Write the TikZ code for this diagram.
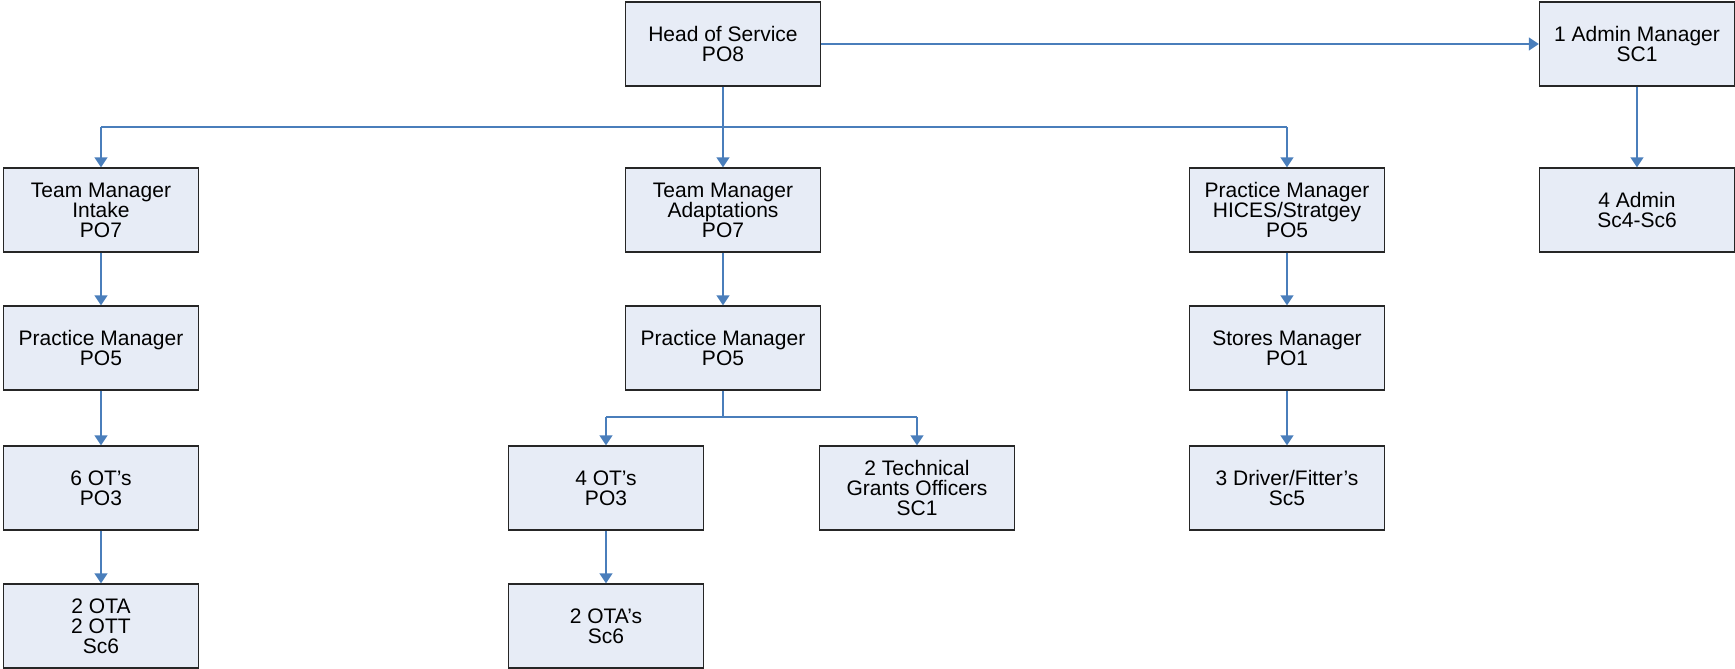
\documentclass[tikz,border=0pt]{standalone}
\usepackage{fontspec}
\setmainfont{Liberation Sans}
\usetikzlibrary{calc,arrows.meta}

\definecolor{boxfill}{HTML}{E7ECF6}
\definecolor{linkblue}{HTML}{4A7EBB}

\tikzset{
    post/.style={draw=black!85, line width=1.3pt, fill=boxfill, minimum width=195pt,
        minimum height=84pt, align=center, inner sep=2pt,
        font=\fontsize{21}{20}\selectfont},
    link/.style={draw=linkblue, line width=1.3pt},
    tip/.style={link, -{Triangle[width=13pt,length=10pt]}, color=linkblue}
}

\begin{document}
\begin{tikzpicture}[x=1pt, y=-1pt]
    \useasboundingbox (0,0) rectangle (1735,669);

    % top row
    \node[post] (hos) at (723,44) {Head of Service\\PO8};
    \node[post] (adm) at (1637,44) {1 Admin Manager\\SC1};

    % managers
    \node[post] (tmi) at (101,210) {Team Manager\\Intake\\PO7};
    \node[post] (tma) at (723,210) {Team Manager\\Adaptations\\PO7};
    \node[post] (pmh) at (1287,210) {Practice Manager\\HICES/Stratgey\\PO5};
    \node[post] (adm4) at (1637,210) {4 Admin\\Sc4-Sc6};

    \node[post] (pmi) at (101,348) {Practice Manager\\PO5};
    \node[post] (pma) at (723,348) {Practice Manager\\PO5};
    \node[post] (stm) at (1287,348) {Stores Manager\\PO1};

    % staff
    \node[post] (ots6) at (101,488) {6 OT's\\PO3};
    \node[post] (ots4) at (606,488) {4 OT's\\PO3};
    \node[post] (tgo) at (917,488) {2 Technical\\Grants Officers\\SC1};
    \node[post] (drv) at (1287,488) {3 Driver/Fitter's\\Sc5};

    \node[post] (ota2) at (101,626) {2 OTA\\2 OTT\\Sc6};
    \node[post] (otas) at (606,626) {2 OTA's\\Sc6};

    % branch from head of service
    \coordinate (bar1) at (0,127);
    \draw[link] (hos.south) -- (hos.south |- bar1);
    \draw[link] (tmi.north |- bar1) -- (pmh.north |- bar1);
    \foreach \n in {tmi,tma,pmh} {\draw[tip] (\n.north |- bar1) -- (\n.north);}
    \draw[tip] (hos.east) -- (adm.west);
    \draw[tip] (adm) -- (adm4);

    % branch from practice manager
    \coordinate (bar2) at (0,417);
    \draw[link] (pma.south) -- (pma.south |- bar2);
    \draw[link] (ots4.north |- bar2) -- (tgo.north |- bar2);
    \foreach \n in {ots4,tgo} {\draw[tip] (\n.north |- bar2) -- (\n.north);}

    % straight chains
    \draw[tip] (tmi) -- (pmi);
    \draw[tip] (pmi) -- (ots6);
    \draw[tip] (ots6) -- (ota2);
    \draw[tip] (tma) -- (pma);
    \draw[tip] (ots4) -- (otas);
    \draw[tip] (pmh) -- (stm);
    \draw[tip] (stm) -- (drv);
\end{tikzpicture}
\end{document}
